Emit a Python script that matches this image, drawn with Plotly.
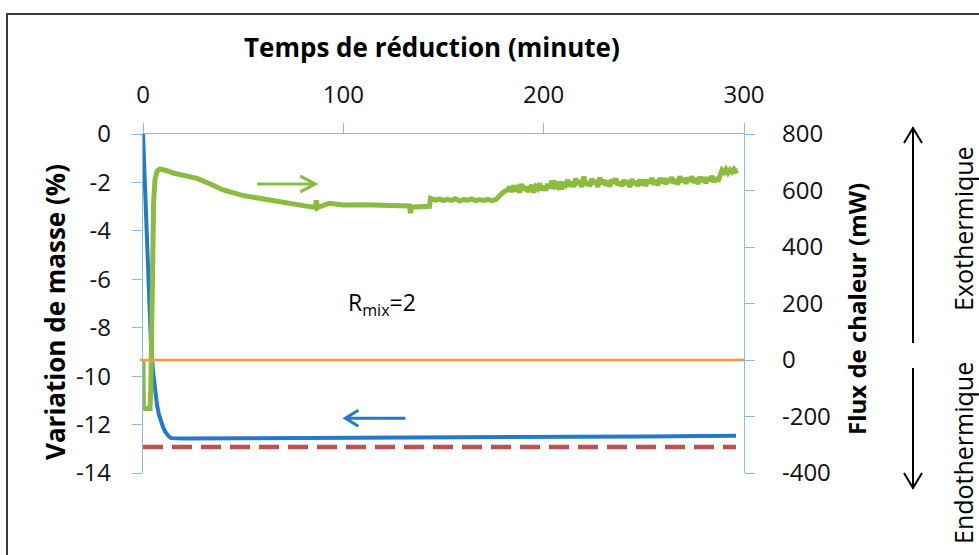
import plotly.graph_objects as go

# ---------------- data ----------------
# Mass variation (%) – left axis
t_mass = [0, 1, 2, 3, 4, 5, 6, 7, 8, 9, 10, 11, 12, 13, 14, 16, 20, 50, 100, 150, 200, 250, 296]
mass = [0, -2.3, -4.6, -6.9, -8.7, -9.8, -10.6, -11.2, -11.6, -11.9, -12.1, -12.28, -12.4, -12.5,
        -12.56, -12.58, -12.58, -12.57, -12.56, -12.54, -12.52, -12.49, -12.46]

# Heat flux (mW) – right axis
t_flux = [0, 0.2, 1, 2, 3, 3.5, 3.9, 4.3, 4.8, 5.3, 6, 7, 8.5, 10, 12, 15, 20, 27, 33, 40, 50, 60, 70,
          77, 83, 86, 86.5, 87, 88, 93, 100, 110, 120, 128, 133, 133.5, 134, 135, 140, 143, 143.5,
          146, 148, 150, 152, 154, 156, 158, 160, 162, 164, 166, 168, 170, 172, 174, 176,
          178, 180, 182,
          183, 184, 185, 186, 187, 188, 189, 190, 191, 192, 193, 194, 195, 196, 197, 198, 199,
          200, 201, 202, 203, 204, 205, 206, 207, 208, 209, 210, 211, 212, 213, 214, 215, 216,
          217, 218, 219, 220, 221, 222, 223, 224, 225, 226, 227, 228, 229, 230, 231, 232, 233,
          234, 235, 236, 237, 238, 239, 240, 241, 242, 243, 244, 245, 246, 247, 248, 249, 250,
          251, 252, 253, 254, 255, 256, 257, 258, 259, 260, 261, 262, 263, 264, 265, 266, 267,
          268, 269, 270, 271, 272, 273, 274, 275, 276, 277, 278, 279, 280, 281, 282, 283, 284,
          285, 286, 287, 288, 289, 290, 291, 292, 293, 294, 295, 296, 297]
flux = [0, -165, -172, -173, -173, -172, -100, 100, 380, 560, 640, 668, 676, 675, 670, 662, 655, 643,
        625, 602, 582, 569, 557, 549, 543, 540, 565, 538, 542, 555, 549, 550, 546, 547, 545, 520,
        540, 542, 543, 544, 572,
        566, 570, 564, 569, 565, 571, 563, 568, 566, 570, 564, 568, 565, 569, 564, 567,
        580, 595, 602,
        613, 595, 618, 598, 608, 593, 623, 601, 614, 596, 608, 619, 593, 613, 606, 625, 602,
        615, 600, 623, 608, 635, 606, 623, 614, 631, 604, 629, 620, 637, 615, 631, 613, 642,
        620, 636, 612, 649, 619, 631, 615, 641, 624, 636, 612, 646, 622, 638, 618, 634, 614,
        639, 625, 643, 619, 631, 615, 637, 621, 635, 612, 640, 622, 632, 616, 639, 619, 638,
        616, 637, 626, 644, 621, 637, 618, 644, 627, 643, 622, 642, 629, 647, 625, 639, 621,
        650, 630, 644, 624, 646, 632, 650, 627, 643, 623, 649, 631, 647, 626, 646, 634, 651,
        629, 646, 632, 660, 672, 664, 675, 662, 673, 666, 676, 668, 670]

# Final mass reference (dashed) and zero-flux reference
t_ref = [0, 296]
mass_ref = [-12.93, -12.93]

x_ticks = [0, 100, 200, 300]
y_ticks = [0, -2, -4, -6, -8, -10, -12, -14]
y_ticktext = ["0", "-2", "-4", "-6", "-8", "-10", "-12", "-14"]
y2_ticks = [800, 600, 400, 200, 0, -200, -400]
y2_ticktext = ["800", "600", "400", "200", "0", "-200", "-400"]

# ---------------- styling helpers ----------------
L, R, T, B = 143, 235, 134, 82
W, H = 979, 555
PW, PH = W - L - R, H - T - B


def px(xp):
    return (xp - L) / PW


def py(yp):
    return (H - B - yp) / PH


FONT = "Open Sans"
AXC = "#86bde6"
BLUE = "#2479c9"
GREEN = "#8bbc3f"
ORANGE = "#f79646"
RED = "#c0504d"

fig = go.Figure()
fig.add_trace(go.Scatter(x=t_mass, y=mass, mode="lines", line=dict(color=BLUE, width=4),
                         yaxis="y", showlegend=False, hoverinfo="skip"))
fig.add_trace(go.Scatter(x=t_ref, y=mass_ref, mode="lines",
                         line=dict(color=RED, width=4.5, dash="20px,9px"),
                         yaxis="y", showlegend=False, hoverinfo="skip"))
fig.add_trace(go.Scatter(x=t_flux, y=flux, mode="lines", line=dict(color=GREEN, width=5),
                         yaxis="y2", showlegend=False, hoverinfo="skip"))

tickfont = dict(family=FONT, size=24, color="#111111")

fig.update_layout(
    width=W, height=H,
    margin=dict(l=L, r=R, t=T, b=B, pad=0),
    paper_bgcolor="white", plot_bgcolor="white",
    showlegend=False,
    xaxis=dict(range=[0, 300], side="top", tickvals=x_ticks, showgrid=False, zeroline=False,
               showline=True, linecolor=AXC, linewidth=1.3, ticks="outside", ticklen=10,
               tickcolor=AXC, tickwidth=1.3, tickfont=tickfont, ticklabelstandoff=10,
               automargin=False),
    yaxis=dict(range=[-14, 0], tickvals=y_ticks, ticktext=y_ticktext, showgrid=False,
               zeroline=False, showline=True, linecolor=AXC, linewidth=1.3, ticks="outside",
               ticklen=10, tickcolor=AXC, tickwidth=1.3, tickfont=tickfont,
               ticklabelstandoff=16, automargin=False),
    yaxis2=dict(range=[-400, 800], tickvals=y2_ticks, ticktext=y2_ticktext, overlaying="y",
                side="right", showgrid=False, zeroline=False, showline=True, linecolor=AXC,
                linewidth=1.3, ticks="outside", ticklen=10, tickcolor=AXC, tickwidth=1.3,
                tickfont=tickfont, ticklabelstandoff=22, automargin=False),
)

shapes = [
    # outer frame
    dict(type="rect", xref="paper", yref="paper", x0=px(7), y0=py(575), x1=px(995), y1=py(14),
         line=dict(color="#3a3a3a", width=2), layer="below"),
    # zero flux line
    dict(type="line", xref="paper", yref="y2", x0=px(140), x1=1, y0=0, y1=0,
         line=dict(color=ORANGE, width=2.5)),
    # green arrow (→)
    dict(type="path", xref="x", yref="y2", path="M57,623 L86,623 M78.5,651 L86,623 L78.5,595",
         line=dict(color=GREEN, width=3)),
    # blue arrow (←)
    dict(type="path", xref="x", yref="y",
         path="M131,-11.74 L101,-11.74 M107.5,-11.41 L101,-11.74 L107.5,-12.07",
         line=dict(color=BLUE, width=3)),
    # black up arrow
    dict(type="path", xref="paper", yref="paper",
         path=f"M{px(913)},{py(343)} L{px(913)},{py(128)} M{px(904)},{py(143)} L{px(913)},{py(128)} L{px(922)},{py(143)}",
         line=dict(color="black", width=2)),
    # black down arrow
    dict(type="path", xref="paper", yref="paper",
         path=f"M{px(913)},{py(368)} L{px(913)},{py(488)} M{px(904)},{py(473)} L{px(913)},{py(488)} L{px(922)},{py(473)}",
         line=dict(color="black", width=2)),
]
fig.update_layout(shapes=shapes)

ann = [
    dict(text="<b>Temps de réduction (minute)</b>", x=px(432), y=py(47),
         font=dict(family=FONT, size=26, color="black")),
    dict(text="<b>Variation de masse (%)</b>", x=px(55), y=py(312), textangle=-90,
         font=dict(family=FONT, size=26, color="black")),
    dict(text="<b>Flux de chaleur (mW)</b>", x=px(856), y=py(309), textangle=-90,
         font=dict(family=FONT, size=24, color="black")),
    dict(text="Exothermique", x=px(963), y=py(228), textangle=-90,
         font=dict(family=FONT, size=25, color="black")),
    dict(text="Endothermique", x=px(963), y=py(453), textangle=-90,
         font=dict(family=FONT, size=25, color="black")),
    dict(text="R<sub>mix</sub>=2", x=px(382), y=py(303),
         font=dict(family=FONT, size=23, color="black")),
]
for a in ann:
    a.update(xref="paper", yref="paper", showarrow=False, xanchor="center", yanchor="middle")
fig.update_layout(annotations=ann)

fig.write_html("out.html", config={"displayModeBar": False},
               post_script="document.body.style.margin='0';document.body.style.overflow='hidden';")
